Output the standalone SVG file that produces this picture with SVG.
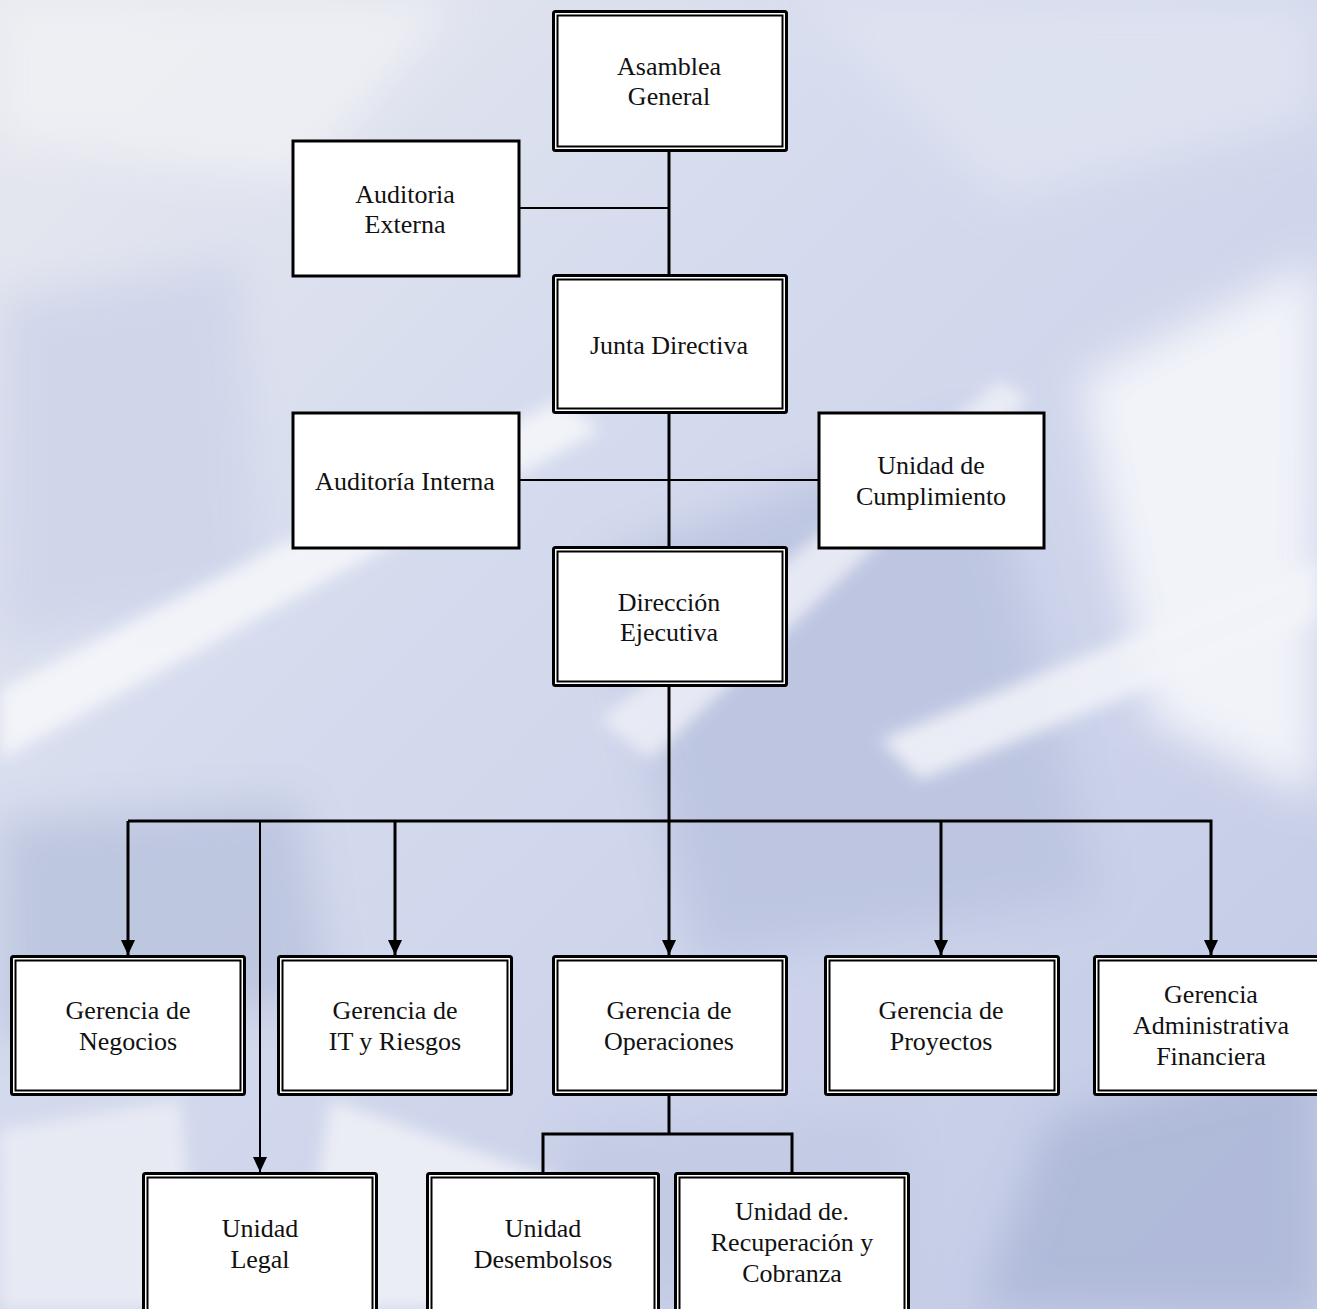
<svg xmlns="http://www.w3.org/2000/svg" width="1317" height="1309" viewBox="0 0 1317 1309">
<defs>
<linearGradient id="bg" x1="0" y1="0" x2="1" y2="1">
<stop offset="0" stop-color="#e8e9ef"/>
<stop offset="0.35" stop-color="#d6dcee"/>
<stop offset="0.7" stop-color="#cbd2ea"/>
<stop offset="1" stop-color="#c2cae4"/>
</linearGradient>
<filter id="blur" x="-20%" y="-20%" width="140%" height="140%"><feGaussianBlur stdDeviation="22"/></filter>
<filter id="blur2" x="-20%" y="-20%" width="140%" height="140%"><feGaussianBlur stdDeviation="8"/></filter>
<marker id="arr" markerUnits="userSpaceOnUse" markerWidth="16" markerHeight="16" refX="15" refY="8" orient="auto">
<path d="M0,1 L15,8 L0,15 Z" fill="#000"/>
</marker>
<style>
.t{font-family:"Liberation Serif","Times New Roman",serif;font-size:26px;fill:#111;text-anchor:middle}
.o{fill:#fff;stroke:#000;stroke-width:3}
.i{fill:none;stroke:#000;stroke-width:2}
.s{fill:#fff;stroke:#000;stroke-width:3}
.c{fill:none;stroke:#000;stroke-width:3}
.c2{fill:none;stroke:#000;stroke-width:2}
</style>
</defs>
<g id="background">
<rect width="1317" height="1309" fill="url(#bg)"/>
<g filter="url(#blur)" opacity="0.9">
<polygon points="0,0 460,0 300,180 0,140" fill="#eff0f4"/>
<polygon points="800,0 1317,0 1317,120 1000,200" fill="#dfe3f1"/>
<polygon points="1080,380 1317,260 1317,800 1150,720" fill="#f6f7fb"/>
<polygon points="600,560 980,420 1100,900 700,960" fill="#bcc4e0"/>
<polygon points="0,820 300,800 330,1000 0,1040" fill="#bcc5df"/>
<polygon points="1050,1120 1317,1050 1317,1309 980,1309" fill="#aeb8d8"/>
<polygon points="0,300 240,260 260,600 0,640" fill="#cfd5ea"/>
<polygon points="560,1130 900,1120 900,1309 560,1309" fill="#c2cae4"/>
</g>
<g filter="url(#blur2)" opacity="0.85">
<polygon points="0,690 560,400 600,430 0,760" fill="#f7f8fb"/>
<polygon points="600,720 1000,380 1030,400 650,760" fill="#eef0f7"/>
<polygon points="880,740 1317,560 1317,620 920,780" fill="#f3f4f9"/>
<polygon points="0,1130 180,1100 200,1309 0,1309" fill="#eceef5"/>
<polygon points="330,1100 560,1180 500,1309 300,1309" fill="#f1f2f7"/>
</g>
</g>
<g id="connectors">
<line class="c" x1="669" y1="152" x2="669" y2="276"/>
<line class="c2" x1="519" y1="208" x2="669" y2="208"/>
<line class="c" x1="669" y1="414" x2="669" y2="547"/>
<line class="c2" x1="519" y1="480" x2="818" y2="480"/>
<line class="c" x1="669" y1="687" x2="669" y2="821"/>
<polyline class="c" points="128,821 1211,821 1211,955" marker-end="url(#arr)"/>
<line class="c" x1="128" y1="821" x2="128" y2="955" marker-end="url(#arr)"/>
<line class="c" x1="395" y1="821" x2="395" y2="955" marker-end="url(#arr)"/>
<line class="c" x1="669" y1="821" x2="669" y2="955" marker-end="url(#arr)"/>
<line class="c" x1="941" y1="821" x2="941" y2="955" marker-end="url(#arr)"/>
<line class="c2" x1="260" y1="821" x2="260" y2="1172" marker-end="url(#arr)"/>
<line class="c" x1="669" y1="1096" x2="669" y2="1134"/>
<polyline class="c" points="543,1173 543,1134 792,1134 792,1173"/>
</g>
<g id="asamblea-general">
<rect class="o" x="553.5" y="11.5" width="233" height="139" rx="2"/>
<rect class="i" x="557.5" y="15.5" width="225" height="131"/>
<text class="t" x="669" y="75">Asamblea</text>
<text class="t" x="669" y="105">General</text>
</g>
<g id="auditoria-externa">
<rect class="s" x="293" y="141" width="226" height="135"/>
<text class="t" x="405" y="203">Auditoria</text>
<text class="t" x="405" y="233">Externa</text>
</g>
<g id="junta-directiva">
<rect class="o" x="553.5" y="275.5" width="233" height="137" rx="2"/>
<rect class="i" x="557.5" y="279.5" width="225" height="129"/>
<text class="t" x="669" y="354">Junta Directiva</text>
</g>
<g id="auditoria-interna">
<rect class="s" x="293" y="413" width="226" height="135"/>
<text class="t" x="405" y="490">Auditoría Interna</text>
</g>
<g id="unidad-cumplimiento">
<rect class="s" x="819" y="413" width="225" height="135"/>
<text class="t" x="931" y="474">Unidad de</text>
<text class="t" x="931" y="505">Cumplimiento</text>
</g>
<g id="direccion-ejecutiva">
<rect class="o" x="553.5" y="547.5" width="233" height="138" rx="2"/>
<rect class="i" x="557.5" y="551.5" width="225" height="130"/>
<text class="t" x="669" y="611">Dirección</text>
<text class="t" x="669" y="641">Ejecutiva</text>
</g>
<g id="gerencia-negocios">
<rect class="o" x="11.5" y="956.5" width="233" height="138" rx="2"/>
<rect class="i" x="15.5" y="960.5" width="225" height="130"/>
<text class="t" x="128" y="1019">Gerencia de</text>
<text class="t" x="128" y="1050">Negocios</text>
</g>
<g id="gerencia-it-riesgos">
<rect class="o" x="278.5" y="956.5" width="233" height="138" rx="2"/>
<rect class="i" x="282.5" y="960.5" width="225" height="130"/>
<text class="t" x="395" y="1019">Gerencia de</text>
<text class="t" x="395" y="1050">IT y Riesgos</text>
</g>
<g id="gerencia-operaciones">
<rect class="o" x="553.5" y="956.5" width="233" height="138" rx="2"/>
<rect class="i" x="557.5" y="960.5" width="225" height="130"/>
<text class="t" x="669" y="1019">Gerencia de</text>
<text class="t" x="669" y="1050">Operaciones</text>
</g>
<g id="gerencia-proyectos">
<rect class="o" x="825.5" y="956.5" width="233" height="138" rx="2"/>
<rect class="i" x="829.5" y="960.5" width="225" height="130"/>
<text class="t" x="941" y="1019">Gerencia de</text>
<text class="t" x="941" y="1050">Proyectos</text>
</g>
<g id="gerencia-administrativa-financiera">
<rect class="o" x="1094.5" y="956.5" width="233" height="138" rx="2"/>
<rect class="i" x="1098.5" y="960.5" width="225" height="130"/>
<text class="t" x="1211" y="1003">Gerencia</text>
<text class="t" x="1211" y="1034">Administrativa</text>
<text class="t" x="1211" y="1065">Financiera</text>
</g>
<g id="unidad-legal">
<rect class="o" x="143.5" y="1173.5" width="233" height="150" rx="2"/>
<rect class="i" x="147.5" y="1177.5" width="225" height="142"/>
<text class="t" x="260" y="1237">Unidad</text>
<text class="t" x="260" y="1268">Legal</text>
</g>
<g id="unidad-desembolsos">
<rect class="o" x="427.5" y="1173.5" width="231" height="150" rx="2"/>
<rect class="i" x="431.5" y="1177.5" width="223" height="142"/>
<text class="t" x="543" y="1237">Unidad</text>
<text class="t" x="543" y="1268">Desembolsos</text>
</g>
<g id="unidad-recuperacion-cobranza">
<rect class="o" x="675.5" y="1173.5" width="233" height="150" rx="2"/>
<rect class="i" x="679.5" y="1177.5" width="225" height="142"/>
<text class="t" x="792" y="1220">Unidad de.</text>
<text class="t" x="792" y="1251">Recuperación y</text>
<text class="t" x="792" y="1282">Cobranza</text>
</g>
</svg>
